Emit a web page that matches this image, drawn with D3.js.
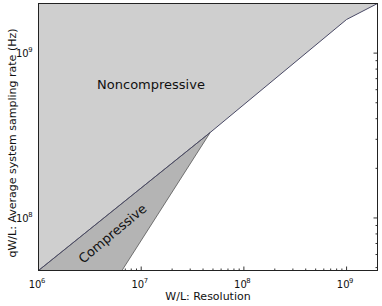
<!DOCTYPE html>
<meta charset="utf-8">
<script src="https://d3js.org/d3.v7.min.js"></script>
<style>
  body { margin: 0; background: #fff; }
  text { font-family: "DejaVu Sans", sans-serif; fill: #111; }
</style>
<body>
<div id="chart"></div>
<script>
// upper boundary (noncompressive limit), W/L vs qW/L
var boundaryW = [1e6, 4.7e7, 1e9, 2e9];
var boundaryQ = [4.8e7, 3.3e8, 1.6e9, 2e9];
// compressive triangle
var compressiveW = [1e6, 4.7e7, 6.5e6];
var compressiveQ = [4.8e7, 3.3e8, 4.8e7];

var xDomain = [1e6, 2e9];
var yDomain = [4.8e7, 2e9];
var xTickExp = [6, 7, 8, 9];
var yTickExp = [8, 9];

var margin = {top: 3.5, right: 4.5, bottom: 35.5, left: 38.5},
    width = 382 - margin.left - margin.right,
    height = 306 - margin.top - margin.bottom;

var svg = d3.select("#chart").append("svg")
    .attr("width", 382).attr("height", 306);
var g = svg.append("g")
    .attr("transform", "translate(" + margin.left + "," + margin.top + ")");

var x = d3.scaleLog().domain(xDomain).range([0, width]);
var y = d3.scaleLog().domain(yDomain).range([height, 0]);

// minor + major ticks, pointing inward on all sides
function logTicks(dom) {
  var out = [];
  for (var e = Math.floor(Math.log10(dom[0])); e <= Math.ceil(Math.log10(dom[1])); e++) {
    for (var m = 1; m < 10; m++) {
      var v = m * Math.pow(10, e);
      if (v >= dom[0] * 0.9999 && v <= dom[1] * 1.0001) out.push({v: v, major: m == 1});
    }
  }
  return out;
}
var ticks = g.append("g").attr("stroke", "#000").attr("stroke-width", 0.8);
logTicks(xDomain).forEach(function(t) {
  var L = t.major ? 4 : 2, px = x(t.v);
  ticks.append("line").attr("x1", px).attr("x2", px).attr("y1", height).attr("y2", height - L);
  ticks.append("line").attr("x1", px).attr("x2", px).attr("y1", 0).attr("y2", L);
});
logTicks(yDomain).forEach(function(t) {
  var L = t.major ? 4 : 2, py = y(t.v);
  ticks.append("line").attr("y1", py).attr("y2", py).attr("x1", 0).attr("x2", L);
  ticks.append("line").attr("y1", py).attr("y2", py).attr("x1", width).attr("x2", width - L);
});

// regions
var nonPts = boundaryW.map(function(w, i) { return [x(w), y(boundaryQ[i])]; });
nonPts.push([x(xDomain[0]), y(yDomain[1])]);
g.append("path")
  .attr("d", d3.line()(nonPts) + "Z")
  .attr("fill", "#cfcfcf").attr("stroke", "none");

var compPts = compressiveW.map(function(w, i) { return [x(w), y(compressiveQ[i])]; });
g.append("path")
  .attr("d", d3.line()(compPts) + "Z")
  .attr("fill", "#b4b4b4").attr("stroke", "#555").attr("stroke-width", 0.8);

g.append("path")
  .attr("d", d3.line()(boundaryW.map(function(w, i) { return [x(w), y(boundaryQ[i])]; })))
  .attr("fill", "none").attr("stroke", "#4a4a66").attr("stroke-width", 1);

// frame
g.append("rect").attr("width", width).attr("height", height)
  .attr("fill", "none").attr("stroke", "#222").attr("stroke-width", 1);

// tick labels
xTickExp.forEach(function(e) {
  var t = g.append("text").attr("x", x(Math.pow(10, e)) - 1.5).attr("y", height + 17)
    .attr("text-anchor", "middle").style("font-size", "10px");
  t.append("tspan").text("10");
  t.append("tspan").attr("dy", -5).attr("dx", -0.5).style("font-size", "6.8px").text(e);
});
yTickExp.forEach(function(e) {
  var t = g.append("text").attr("x", -6).attr("y", y(Math.pow(10, e)) + 3.8)
    .attr("text-anchor", "end").style("font-size", "10px");
  t.append("tspan").text("10");
  t.append("tspan").attr("dy", -5).attr("dx", -0.5).style("font-size", "6.8px").text(e);
});

// axis titles
svg.append("text").attr("x", margin.left + width / 2).attr("y", 300)
  .attr("text-anchor", "middle").style("font-size", "11px").text("W/L: Resolution");
svg.append("text").attr("transform", "translate(15.5,143)rotate(-90)")
  .attr("text-anchor", "middle").style("font-size", "11px")
  .text("qW/L: Average system sampling rate (Hz)");

// region labels
svg.append("text").attr("x", 151).attr("y", 89)
  .attr("text-anchor", "middle").style("font-size", "13px").text("Noncompressive");
svg.append("text").attr("transform", "translate(112.5,233.5)rotate(-40)")
  .attr("text-anchor", "middle").attr("dominant-baseline", "central")
  .style("font-size", "13px").text("Compressive");
</script>
</body>
